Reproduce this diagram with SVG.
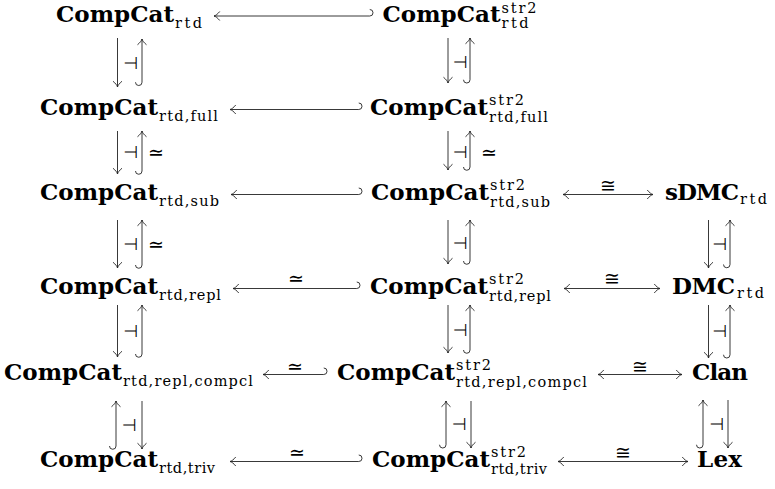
<svg xmlns="http://www.w3.org/2000/svg" width="775" height="489" viewBox="0 0 775 489">
<style>
.m{font-family:"DejaVu Serif",serif;font-weight:bold;font-size:23px;fill:#000}
.s{font-family:"DejaVu Serif",serif;font-size:14.5px;fill:#000}
.l{font-family:"DejaVu Sans",sans-serif;font-size:19px;fill:#000;text-anchor:middle}
.a{font-family:"DejaVu Sans",sans-serif;font-size:17px;fill:#000;text-anchor:middle}
.c path{fill:none;stroke:#222;stroke-width:0.9}
.e{marker-end:url(#tip)}
.b{marker-start:url(#tip);marker-end:url(#tip)}
</style>
<defs>
<marker id="tip" viewBox="-7 -6 9 12" refX="0" refY="0" markerWidth="9" markerHeight="12" markerUnits="userSpaceOnUse" orient="auto-start-reverse">
<path d="M-5.5,-4.2 C-3.8,-2 -1.6,-0.4 0,0 C-1.6,0.4 -3.8,2 -5.5,4.2" fill="none" stroke="#222" stroke-width="0.9" stroke-linecap="round"/>
</marker>
</defs>
<rect width="775" height="489" fill="#fff"/>

<g id="n1"><text class="m" x="56" y="21.5" textLength="118">CompCat</text><text class="s" x="175" y="27.5" textLength="27">rtd</text></g>
<g id="n2"><text class="m" x="40" y="115" textLength="118">CompCat</text><text class="s" x="159" y="121" textLength="59">rtd,full</text></g>
<g id="n3"><text class="m" x="40" y="200" textLength="118">CompCat</text><text class="s" x="159" y="206" textLength="60">rtd,sub</text></g>
<g id="n4"><text class="m" x="40" y="294" textLength="118">CompCat</text><text class="s" x="159" y="300" textLength="62">rtd,repl</text></g>
<g id="n5"><text class="m" x="4" y="380" textLength="118">CompCat</text><text class="s" x="123" y="386" textLength="130">rtd,repl,compcl</text></g>
<g id="n6"><text class="m" x="40" y="467" textLength="118">CompCat</text><text class="s" x="159" y="473" textLength="56">rtd,triv</text></g>

<g id="m1"><text class="m" x="382.5" y="21.5" textLength="118">CompCat</text><text class="s" x="501.5" y="12.5" textLength="35">str2</text><text class="s" x="501.5" y="28" textLength="27">rtd</text></g>
<g id="m2"><text class="m" x="370" y="115" textLength="118">CompCat</text><text class="s" x="489" y="104.5" textLength="35">str2</text><text class="s" x="489" y="121.5" textLength="59">rtd,full</text></g>
<g id="m3"><text class="m" x="371" y="200" textLength="118">CompCat</text><text class="s" x="490" y="189.5" textLength="35">str2</text><text class="s" x="490" y="206.5" textLength="60">rtd,sub</text></g>
<g id="m4"><text class="m" x="370" y="294" textLength="118">CompCat</text><text class="s" x="489" y="283.5" textLength="35">str2</text><text class="s" x="489" y="300.5" textLength="62">rtd,repl</text></g>
<g id="m5"><text class="m" x="337" y="380" textLength="118">CompCat</text><text class="s" x="456" y="369.5" textLength="35">str2</text><text class="s" x="456" y="386.5" textLength="131">rtd,repl,compcl</text></g>
<g id="m6"><text class="m" x="372" y="467" textLength="118">CompCat</text><text class="s" x="491" y="456.5" textLength="35">str2</text><text class="s" x="491" y="473.5" textLength="56">rtd,triv</text></g>

<g id="r3"><text class="m" x="665" y="200" textLength="74">sDMC</text><text class="s" x="740" y="203.6" textLength="27">rtd</text></g>
<g id="r4"><text class="m" x="672" y="294" textLength="63">DMC</text><text class="s" x="737" y="297.6" textLength="27">rtd</text></g>
<g id="r5"><text class="m" x="692" y="380" textLength="56">Clan</text></g>
<g id="r6"><text class="m" x="697" y="467" textLength="45">Lex</text></g>

<g id="connectors" class="c">
<path class="e" d="M369.75,9.5 A3.25,3.25 0 0 1 369.75,16 L214,16"/>
<path class="e" d="M358.75,103 A3.25,3.25 0 0 1 358.75,109.5 L230,109.5"/>
<path class="e" d="M358.75,188 A3.25,3.25 0 0 1 358.75,194.5 L231,194.5"/>
<path class="e" d="M356.75,282 A3.25,3.25 0 0 1 356.75,288.5 L233,288.5"/>
<path class="e" d="M323.75,368 A3.25,3.25 0 0 1 323.75,374.5 L263,374.5"/>
<path class="e" d="M358.75,455 A3.25,3.25 0 0 1 358.75,461.5 L230,461.5"/>
<path class="b" d="M563,194.5 L653,194.5"/>
<path class="b" d="M564,288.5 L660,288.5"/>
<path class="b" d="M598,374.5 L682,374.5"/>
<path class="b" d="M558,461.5 L688,461.5"/>
<path class="e" d="M117.5,38 L117.5,87"/>
<path class="e" d="M135.5,82.25 A3.25,3.25 0 0 0 142,82.25 L142,39"/>
<path class="e" d="M117.5,131 L117.5,174"/>
<path class="e" d="M135.5,171 A3.25,3.25 0 0 0 142,171 L142,131"/>
<path class="e" d="M117.5,220 L117.5,268"/>
<path class="e" d="M135.5,265 A3.25,3.25 0 0 0 142,265 L142,220"/>
<path class="e" d="M117.5,305 L117.5,357"/>
<path class="e" d="M135.5,354 A3.25,3.25 0 0 0 142,354 L142,305"/>
<path class="e" d="M109.5,446 A3.25,3.25 0 0 0 116,446 L116,401"/>
<path class="e" d="M142,401 L142,449"/>
<path class="e" d="M448,38 L448,83"/>
<path class="e" d="M463.5,79.75 A3.25,3.25 0 0 0 470,79.75 L470,38"/>
<path class="e" d="M448,131 L448,170"/>
<path class="e" d="M463.5,167 A3.25,3.25 0 0 0 470,167 L470,131"/>
<path class="e" d="M448,220 L448,264"/>
<path class="e" d="M463.5,261 A3.25,3.25 0 0 0 470,261 L470,220"/>
<path class="e" d="M448,305 L448,353"/>
<path class="e" d="M463.5,350 A3.25,3.25 0 0 0 470,350 L470,305"/>
<path class="e" d="M439.5,444.75 A3.25,3.25 0 0 0 446,444.75 L446,401"/>
<path class="e" d="M471,401 L471,448"/>
<path class="e" d="M708.5,220 L708.5,268"/>
<path class="e" d="M723.5,264.5 A3.25,3.25 0 0 0 730,264.5 L730,220"/>
<path class="e" d="M708.5,305 L708.5,358"/>
<path class="e" d="M723.5,354.75 A3.25,3.25 0 0 0 730,354.75 L730,305"/>
<path class="e" d="M696.5,444.75 A3.25,3.25 0 0 0 703,444.75 L703,400"/>
<path class="e" d="M728,400 L728,448"/>
</g>

<g id="labels">
<text class="a" x="131" y="69">⊣</text>
<text class="a" x="131" y="158">⊣</text>
<text class="a" x="131" y="250">⊣</text>
<text class="a" x="131" y="337">⊣</text>
<text class="a" x="129.5" y="431">⊣</text>
<text class="a" x="460.5" y="68">⊣</text>
<text class="a" x="460.5" y="158">⊣</text>
<text class="a" x="460.5" y="249">⊣</text>
<text class="a" x="460.5" y="336">⊣</text>
<text class="a" x="459.5" y="430">⊣</text>
<text class="a" x="720" y="250">⊣</text>
<text class="a" x="720" y="337">⊣</text>
<text class="a" x="717" y="430">⊣</text>
<text class="l" x="156" y="158.5">≃</text>
<text class="l" x="156" y="250.5">≃</text>
<text class="l" x="489" y="158.5">≃</text>
<text class="l" x="296" y="284.5">≃</text>
<text class="l" x="295" y="372.5">≃</text>
<text class="l" x="297" y="458.5">≃</text>
<text class="l" x="608" y="191.5">≅</text>
<text class="l" x="612" y="284.5">≅</text>
<text class="l" x="640" y="372.5">≅</text>
<text class="l" x="623" y="458.5">≅</text>
</g>
</svg>
